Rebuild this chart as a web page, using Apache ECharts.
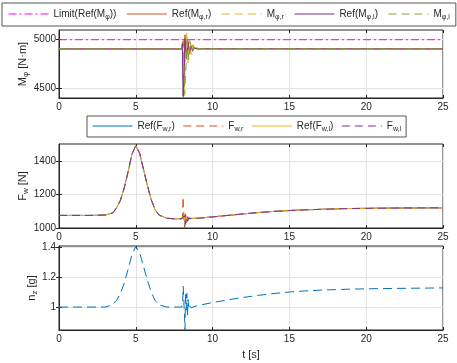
<!DOCTYPE html>
<html>
<head>
<meta charset="utf-8">
<script src="https://cdn.jsdelivr.net/npm/echarts@6/dist/echarts.min.js"></script>
<style>
  html, body { margin: 0; background: #fff; }
  #chart { width: 457px; height: 363px; }
</style>
</head>
<body>
<div id="chart"></div>
<script>
// ---- panel 1: roll moment ----
const limitT = [0, 25]
const limitV = [5000, 5000]
const mRefRT = [0, 8.0, 8.05, 8.1, 8.15, 8.2, 8.3, 8.4, 8.5, 8.6, 8.7, 8.8, 8.9, 9.0, 9.2, 25]
const mRefRV = [4905, 4905, 4980, 4400, 4700, 5050, 4800, 4990, 4850, 4940, 4880, 4920, 4900, 4910, 4905, 4905]
const mRT = [0, 8.0, 8.08, 8.15, 8.22, 8.3, 8.4, 8.5, 8.6, 8.7, 8.8, 8.9, 9.0, 9.1, 9.3, 25]
const mRV = [4905, 4905, 4990, 4420, 4750, 5070, 4760, 5000, 4850, 4950, 4880, 4920, 4895, 4912, 4905, 4905]
const mRefLT = [0, 8.0, 8.03, 8.08, 8.15, 8.2, 8.3, 8.4, 8.5, 8.6, 8.7, 8.8, 8.9, 9.0, 25]
const mRefLV = [4905, 4905, 4960, 4420, 4650, 5010, 4820, 4970, 4870, 4930, 4890, 4912, 4903, 4906, 4905]
const mLT = [0, 8.0, 8.1, 8.18, 8.26, 8.33, 8.45, 8.55, 8.65, 8.75, 8.85, 8.95, 9.05, 9.2, 25]
const mLV = [4905, 4905, 4990, 4440, 4700, 5040, 4790, 4980, 4870, 4940, 4890, 4915, 4900, 4906, 4905]

// ---- panel 2: wheel forces ----
const fPreT = [0, 1, 2, 3, 3.5, 3.75, 4, 4.25, 4.5, 4.75, 5, 5.25, 5.5, 5.75, 6, 6.25, 6.5, 7, 7.5, 8]
const fPreV = [1075, 1075, 1075, 1077, 1090, 1120, 1165, 1240, 1335, 1440, 1490, 1445, 1350, 1255, 1170, 1110, 1078, 1058, 1055, 1055]
const fPostT = [8.6, 9, 10, 11, 12, 13, 14, 15, 16, 17, 18, 19, 20, 22, 25]
const fPostV = [1056, 1058, 1066, 1075, 1084, 1092, 1099, 1104, 1108, 1111, 1114, 1116, 1117, 1119, 1120]
const fRefROscT = [8.05, 8.12, 8.18, 8.25, 8.32, 8.4, 8.5]
const fRefROscV = [1050, 1072, 1035, 1068, 1045, 1060, 1052]
const fROscT = [8.04, 8.08, 8.1, 8.14, 8.18, 8.24, 8.3, 8.38, 8.46, 8.54]
const fROscV = [1070, 1185, 1130, 1060, 1000, 1085, 1030, 1068, 1045, 1058]
const fRefLOscT = [8.06, 8.14, 8.2, 8.28, 8.36, 8.45]
const fRefLOscV = [1048, 1070, 1040, 1064, 1048, 1058]
const fLOscT = [8.1, 8.16, 8.22, 8.3, 8.38, 8.46, 8.54]
const fLOscV = [1045, 1075, 1020, 1066, 1040, 1060, 1050]

// ---- panel 3: load factor ----
const nT = [0, 1, 2, 3, 3.5, 3.75, 4, 4.25, 4.5, 4.75, 5, 5.25, 5.5, 5.75, 6, 6.25, 6.5, 7, 7.5, 8,
  8.05, 8.09, 8.13, 8.17, 8.2, 8.24, 8.28, 8.32, 8.36, 8.4, 8.45, 8.5, 8.6, 8.7,
  9, 10, 11, 12, 13, 14, 15, 16, 17, 18, 19, 20, 22, 25]
const nV = [1, 1, 1, 1.0, 1.015, 1.045, 1.09, 1.16, 1.25, 1.35, 1.4, 1.36, 1.27, 1.18, 1.1, 1.045, 1.015, 1.0, 1.0, 1.0,
  1.04, 1.138, 1.03, 0.95, 0.85, 1.1, 0.98, 1.09, 0.94, 1.05, 0.99, 1.01, 0.995, 1.0,
  1.01, 1.03, 1.048, 1.064, 1.078, 1.09, 1.1, 1.107, 1.112, 1.116, 1.119, 1.121, 1.124, 1.127]

const yTicks = [[4500, 5000], [1000, 1200, 1400], [1, 1.2, 1.4]]
const yRange = [[4400, 5100], [1000, 1500], [0.848, 1.405]]

const blue = '#0072BD', orange = '#D95319', yellow = '#EDB120', purple = '#7E2F8E', green = '#77AC30', magenta = '#FF00FF'
const ink = '#262626'
const font = 'Liberation Sans, Arial, sans-serif'

const zip = (t, v) => t.map((x, i) => [x, v[i]])
const join = (...parts) => [].concat(...parts)

const grids = [
  { left: 59, right: 14, top: 30, height: 68 },
  { left: 59, right: 14, top: 144, height: 84 },
  { left: 59, right: 14, top: 246, height: 84 }
]

const rich = {
  n: { fontSize: 10, fontFamily: font, color: ink, lineHeight: 14 },
  s: { fontSize: 7, fontFamily: font, color: ink, lineHeight: 7, padding: [6, 0, 0, 0], verticalAlign: 'bottom' }
}
const richName = {
  n: { fontSize: 11, fontFamily: font, color: ink, lineHeight: 15 },
  s: { fontSize: 8, fontFamily: font, color: ink, lineHeight: 8, padding: [6, 0, 0, 0], verticalAlign: 'bottom' }
}

const legendText = {
  'Limit(Ref(Mφ))': '{n|Limit(Ref(M}{s|φ}{n|))}',
  'Ref(Mφ,r)': '{n|Ref(M}{s|φ,r}{n|)}',
  'Mφ,r': '{n|M}{s|φ,r}',
  'Ref(Mφ,l)': '{n|Ref(M}{s|φ,l}{n|)}',
  'Mφ,l': '{n|M}{s|φ,l}',
  'Ref(Fw,r)': '{n|Ref(F}{s|w,r}{n|)}',
  'Fw,r': '{n|F}{s|w,r}',
  'Ref(Fw,l)': '{n|Ref(F}{s|w,l}{n|)}',
  'Fw,l': '{n|F}{s|w,l}'
}

const xAxes = []
const yAxes = []
grids.forEach((g, i) => {
  xAxes.push({
    type: 'value', gridIndex: i, min: 0, max: 25, interval: 5,
    axisLine: { lineStyle: { color: ink } },
    axisTick: { inside: true, length: 3, lineStyle: { color: ink } },
    axisLabel: { margin: 4, color: ink, fontSize: 10, fontFamily: font },
    splitLine: { lineStyle: { color: '#e3e3e3' } },
    name: i === 2 ? 't [s]' : '', nameLocation: 'middle', nameGap: 19, nameMoveOverlap: false,
    nameTextStyle: { color: ink, fontSize: 11, fontFamily: font }
  })
  yAxes.push({
    type: 'value', gridIndex: i, min: yRange[i][0], max: yRange[i][1],
    axisLine: { show: true, lineStyle: { color: ink } },
    axisTick: { show: true, inside: true, length: 3, lineStyle: { color: ink }, customValues: yTicks[i] },
    axisLabel: { margin: 3, color: ink, fontSize: 10, fontFamily: font, customValues: yTicks[i], formatter: v => String(v) },
    splitLine: { lineStyle: { color: '#e3e3e3' } },
    name: ['{n|M}{s|φ}{n| [N·m]}', '{n|F}{s|w}{n| [N]}', '{n|n}{s|z}{n| [g]}'][i],
    nameLocation: 'middle', nameGap: [29, 29, 20][i], nameRotate: 90, nameMoveOverlap: false,
    nameTextStyle: { rich: richName }
  })
})
// mirrored ticks on the top and right edges
grids.forEach((g, i) => {
  xAxes.push({
    type: 'value', gridIndex: i, min: 0, max: 25, interval: 5, position: 'top',
    axisLine: { show: false }, axisLabel: { show: false }, splitLine: { show: false },
    axisTick: { inside: true, length: 3, lineStyle: { color: ink } }
  })
  yAxes.push({
    type: 'value', gridIndex: i, min: yRange[i][0], max: yRange[i][1], position: 'right',
    axisLine: { show: false }, axisLabel: { show: false, customValues: yTicks[i] }, splitLine: { show: false },
    axisTick: { show: true, inside: true, length: 3, lineStyle: { color: ink }, customValues: yTicks[i] }
  })
})

function line(name, data, color, type, idx) {
  return {
    name, type: 'line', data, xAxisIndex: idx, yAxisIndex: idx,
    symbol: 'none', showSymbol: false, animation: false,
    lineStyle: { color, width: 1, type },
    itemStyle: { color }
  }
}

const dashed = [8, 5]
const legendBase = {
  itemWidth: 40, itemHeight: 12,
  borderColor: '#555', borderWidth: 1, backgroundColor: '#fff',
  itemStyle: { opacity: 0 },
  lineStyle: { width: 1 },
  formatter: n => legendText[n], textStyle: { rich }
}
const option = {
  animation: false,
  grid: grids.map(g => Object.assign({
    show: true, borderColor: ink, borderWidth: 1, backgroundColor: '#fff', outerBoundsMode: 'none'
  }, g)),
  xAxis: xAxes,
  yAxis: yAxes,
  legend: [
    Object.assign({
      left: 2, top: 3, padding: [5, 6], itemGap: 10,
      data: ['Limit(Ref(Mφ))', 'Ref(Mφ,r)', 'Mφ,r', 'Ref(Mφ,l)', 'Mφ,l']
    }, legendBase),
    Object.assign({
      left: 87, top: 116, padding: [4, 5], itemGap: 8,
      data: ['Ref(Fw,r)', 'Fw,r', 'Ref(Fw,l)', 'Fw,l']
    }, legendBase)
  ],
  series: [
    line('Limit(Ref(Mφ))', zip(limitT, limitV), magenta, [8, 3, 2, 3], 0),
    line('Ref(Mφ,r)', zip(mRefRT, mRefRV), orange, 'solid', 0),
    line('Mφ,r', zip(mRT, mRV), yellow, dashed, 0),
    line('Ref(Mφ,l)', zip(mRefLT, mRefLV), purple, 'solid', 0),
    line('Mφ,l', zip(mLT, mLV), green, dashed, 0),

    line('Ref(Fw,r)', join(zip(fPreT, fPreV), zip(fRefROscT, fRefROscV), zip(fPostT, fPostV)), blue, 'solid', 1),
    line('Fw,r', join(zip(fPreT, fPreV), zip(fROscT, fROscV), zip(fPostT, fPostV)), orange, dashed, 1),
    line('Ref(Fw,l)', join(zip(fPreT, fPreV), zip(fRefLOscT, fRefLOscV), zip(fPostT, fPostV)), yellow, 'solid', 1),
    line('Fw,l', join(zip(fPreT, fPreV), zip(fLOscT, fLOscV), zip(fPostT, fPostV)), purple, dashed, 1),

    line('nz', zip(nT, nV), blue, [9, 5], 2)
  ]
}

const myChart = echarts.init(document.getElementById('chart'))
myChart.setOption(option)
</script>
</body>
</html>
